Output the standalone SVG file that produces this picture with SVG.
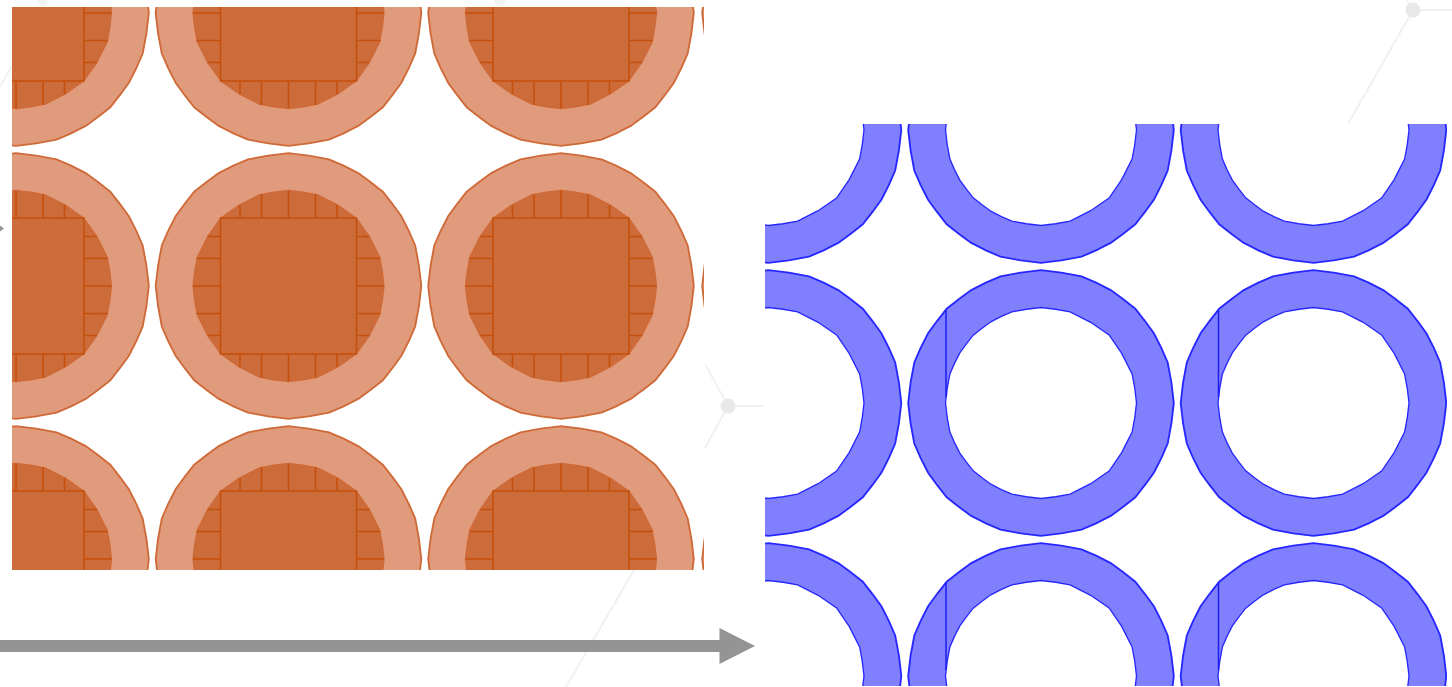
<svg xmlns="http://www.w3.org/2000/svg" width="1452" height="687" viewBox="0 0 1452 687">
<style>
.wl{stroke:#f1f1f1;stroke-width:2;fill:none}
.wd{fill:#e8e8e8}
.wf{fill:#f3f3f3}
.po{fill:#e09b7b;stroke:#cf6a38;stroke-width:1.4;vector-effect:non-scaling-stroke}
.pi{fill:#cc6c3a;stroke:#cf6a38;stroke-width:1.4;vector-effect:non-scaling-stroke}
.t{fill:none;stroke:#c5500f;stroke-width:1.6}
.bo{fill:#8080ff;stroke:#2828ff;stroke-width:1.4;vector-effect:non-scaling-stroke}
.bi{fill:#fff;stroke:#2828ff;stroke-width:1.4;vector-effect:non-scaling-stroke}
.s{fill:none;stroke:#1c1cf0;stroke-width:1.5}
</style>
<defs>
<filter id="soft" x="-2%" y="-2%" width="104%" height="104%"><feGaussianBlur stdDeviation="0.5"/></filter>
<polygon id="p" points="100,0 98.2,15.3 95.4,30.5 90.6,41.5 85,52.5 78.3,61.7 71,71 61.7,78.3 52.5,85 41.5,90.6 30.5,95.4 15.3,98.2 0,100 -15.3,98.2 -30.5,95.4 -41.5,90.6 -52.5,85 -61.7,78.3 -71,71 -78.3,61.7 -85,52.5 -90.6,41.5 -95.4,30.5 -98.2,15.3 -100,0 -98.2,-15.3 -95.4,-30.5 -90.6,-41.5 -85,-52.5 -78.3,-61.7 -71,-71 -61.7,-78.3 -52.5,-85 -41.5,-90.6 -30.5,-95.4 -15.3,-98.2 0,-100 15.3,-98.2 30.5,-95.4 41.5,-90.6 52.5,-85 61.7,-78.3 71,-71 78.3,-61.7 85,-52.5 90.6,-41.5 95.4,-30.5 98.2,-15.3"/>
<polygon id="q" points="100,0 98.2,15.3 95.4,30.5 84.5,52 71,71 52,84.5 30.5,95.4 15.3,98.2 0,100 -15.3,98.2 -30.5,95.4 -52,84.5 -71,71 -84.5,52 -95.4,30.5 -98.2,15.3 -100,0 -98.2,-15.3 -95.4,-30.5 -84.5,-52 -71,-71 -52,-84.5 -30.5,-95.4 -15.3,-98.2 0,-100 15.3,-98.2 30.5,-95.4 52,-84.5 71,-71 84.5,-52 95.4,-30.5 98.2,-15.3"/>
<polygon id="r" points="100,0 98.2,15.3 95.4,30.5 84.5,52 71.3,71.3 52,84.5 30.5,95.4 15.3,98.2 0,100 -15.3,98.2 -30.5,95.4 -41.5,90.6 -52.5,85 -61.7,78.3 -71,71 -78.3,61.7 -85,52.5 -90.6,41.5 -95.4,30.5 -98.2,15.3 -100,0 -98.2,-15.3 -95.4,-30.5 -90.6,-41.5 -85,-52.5 -78.3,-61.7 -71,-71 -61.7,-78.3 -52.5,-85 -41.5,-90.6 -30.5,-95.4 -15.3,-98.2 0,-100 15.3,-98.2 30.5,-95.4 52,-84.5 71.3,-71.3 84.5,-52 95.4,-30.5 98.2,-15.3"/>
<clipPath id="co"><rect x="12" y="7" width="692" height="563"/></clipPath>
<clipPath id="cb"><rect x="765" y="124" width="682" height="562"/></clipPath>
<g id="oc">
<use href="#p" class="po" transform="scale(1.328)"/>
<use href="#q" class="pi" transform="scale(.955)"/>
<path class="t" d="M0-68V-95.5M0 68V95.5M-27-68V-92M27-68V-92M-27 68V92M27 68V92M-48.5-68V-81M48.5-68V-81M-48.5 68V81M48.5 68V81M-68 0H-95.5M68 0H95.5M-68-27.5H-92M68-27.5H92M-68 27.5H-92M68 27.5H92M-68-49.5H-81M68-49.5H81M-68 49.5H-81M68 49.5H81"/>
<rect class="t" x="-68" y="-68" width="136" height="136" style="fill:#cc6c3a"/>
</g>
<g id="bc">
<use href="#p" class="bo" transform="scale(1.328)"/>
<use href="#r" class="bi" transform="scale(.955)"/>
<path class="s" d="M-95 -93V-6"/>
</g>
</defs>
<rect width="1452" height="687" fill="#fff"/>
<g id="watermark">
<path class="wl" d="M1348 124L1413 10L1407 0M1413 10H1452M705 364L728 406L764 406M728 406L705 448M634 570L566 687M0 87L14 62"/>
<circle class="wd" cx="1413" cy="10" r="7.5"/>
<circle class="wd" cx="728" cy="406" r="7.5"/>
<circle class="wf" cx="43" cy="0" r="6"/>
<circle class="wf" cx="500" cy="0" r="6"/>
</g>
<g id="panel-before">
<rect x="12" y="7" width="692" height="563" fill="#fff"/>
<g clip-path="url(#co)">
<g filter="url(#soft)">
<g id="o1"><use href="#oc" transform="translate(16 13)"/></g>
<g id="o2"><use href="#oc" transform="translate(288.5 13)"/></g>
<g id="o3"><use href="#oc" transform="translate(561 13)"/></g>
<g id="o4"><use href="#oc" transform="translate(835 13)"/></g>
<g id="o5"><use href="#oc" transform="translate(16 286)"/></g>
<g id="o6"><use href="#oc" transform="translate(288.5 286)"/></g>
<g id="o7"><use href="#oc" transform="translate(561 286)"/></g>
<g id="o8"><use href="#oc" transform="translate(835 286)"/></g>
<g id="o9"><use href="#oc" transform="translate(16 559)"/></g>
<g id="o10"><use href="#oc" transform="translate(288.5 559)"/></g>
<g id="o11"><use href="#oc" transform="translate(561 559)"/></g>
<g id="o12"><use href="#oc" transform="translate(835 559)"/></g>
</g>
</g>
</g>
<g id="panel-after">
<rect x="765" y="124" width="682" height="562" fill="#fff"/>
<g clip-path="url(#cb)">
<g filter="url(#soft)">
<g id="b1"><use href="#bc" transform="translate(768.5 130)"/></g>
<g id="b2"><use href="#bc" transform="translate(1041 130)"/></g>
<g id="b3"><use href="#bc" transform="translate(1313.5 130)"/></g>
<g id="b4"><use href="#bc" transform="translate(768.5 403)"/></g>
<g id="b5"><use href="#bc" transform="translate(1041 403)"/></g>
<g id="b6"><use href="#bc" transform="translate(1313.5 403)"/></g>
<g id="b7"><use href="#bc" transform="translate(768.5 676)"/></g>
<g id="b8"><use href="#bc" transform="translate(1041 676)"/></g>
<g id="b9"><use href="#bc" transform="translate(1313.5 676)"/></g>
</g>
</g>
</g>
<g id="connectors">
<polygon fill="#949494" points="0,640 719.5,640 719.5,628 755,646 719.5,664 719.5,652 0,652"/>
<polygon fill="#949494" points="0,225.5 4,228.5 0,231.5"/>
</g>
</svg>
